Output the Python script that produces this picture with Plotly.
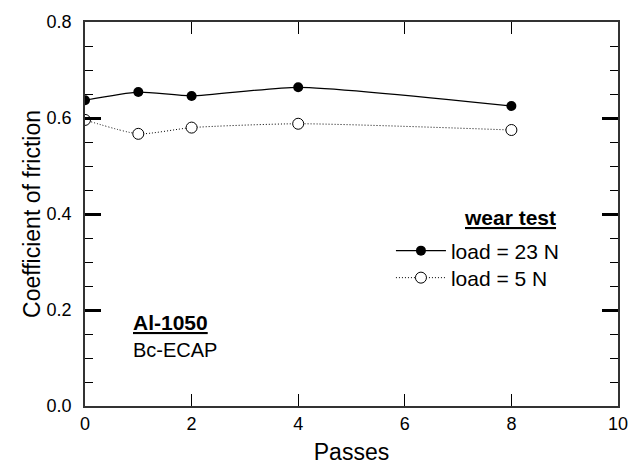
import plotly.graph_objects as go

# Data
passes = [0, 1, 2, 4, 8]
cof_23N = [0.637, 0.654, 0.646, 0.664, 0.625]
cof_5N = [0.596, 0.567, 0.580, 0.588, 0.575]

series_names = ["load = 23 N", "load = 5 N"]
x_ticks = [0, 2, 4, 6, 8, 10]
y_ticks = [0.0, 0.2, 0.4, 0.6, 0.8]

FONT = "Liberation Sans, Arial, sans-serif"

fig = go.Figure()

fig.add_trace(go.Scatter(
    x=passes, y=cof_23N, name=series_names[0], legend="legend",
    mode="lines+markers",
    line=dict(color="black", width=1.2, shape="spline", smoothing=0.6),
    marker=dict(symbol="circle", size=10, color="black"),
))
fig.add_trace(go.Scatter(
    x=passes, y=cof_5N, name=series_names[1], legend="legend2",
    mode="lines+markers",
    line=dict(color="black", width=1, dash="1px,2px", shape="spline", smoothing=0.6),
    marker=dict(symbol="circle", size=11, color="white",
                line=dict(color="black", width=1)),
))

fig.update_xaxes(
    range=[0, 10], tickvals=x_ticks, automargin=False,
    ticks="inside", ticklen=12, tickwidth=1, tickcolor="black",
    showline=True, linecolor="#333", linewidth=1.5, mirror="ticks",
    showgrid=False, zeroline=False,
    tickfont=dict(family=FONT, size=18, color="black"),
    ticklabelstandoff=1,
    title=dict(text="Passes", font=dict(family=FONT, size=23, color="black"), standoff=15),
)
fig.update_yaxes(
    range=[0, 0.8], tickvals=y_ticks, tickformat=".1f", automargin=False,
    ticks="inside", ticklen=16, tickwidth=2.5, tickcolor="black",
    minor=dict(ticks="inside", ticklen=8, tickwidth=1.2, dtick=0.05, tickcolor="black", showgrid=False),
    showline=True, linecolor="#333", linewidth=1.5, mirror="ticks",
    showgrid=False, zeroline=False,
    tickfont=dict(family=FONT, size=18, color="black"),
    ticklabelstandoff=8,
    title=dict(text="Coefficient of friction", font=dict(family=FONT, size=23, color="black"), standoff=0),
)

# text labels inside the plot
fig.add_annotation(
    x=0.86, y=0.146, xref="x", yref="y", xanchor="left", yanchor="bottom",
    text="<b>Al-1050</b>", showarrow=False,
    font=dict(family=FONT, size=21, color="black", lineposition="under"),
)
fig.add_annotation(
    x=0.86, y=0.09, xref="x", yref="y", xanchor="left", yanchor="bottom",
    text="Bc-ECAP", showarrow=False,
    font=dict(family=FONT, size=20, color="black"),
)
fig.add_annotation(
    x=7.98, y=0.364, xref="x", yref="y", xanchor="center", yanchor="bottom",
    text="<b>wear test</b>", showarrow=False,
    font=dict(family=FONT, size=21, color="black", lineposition="under"),
)

legend_style = dict(
    xanchor="left", yanchor="middle",
    bgcolor="rgba(0,0,0,0)", borderwidth=0,
    font=dict(family=FONT, size=21, color="black"),
    itemwidth=50,
)

fig.update_layout(
    width=632, height=465,
    margin=dict(l=85, r=14, t=22, b=59),
    paper_bgcolor="white", plot_bgcolor="white",
    showlegend=True,
    legend=dict(x=0.574, y=(406 - 251) / 384, **legend_style),
    legend2=dict(x=0.574, y=(406 - 278) / 384, **legend_style),
)

# drop the default page margin so the figure sits at the window corner
fig.write_html(
    "out.html",
    config={"displayModeBar": False},
    post_script="document.body.style.margin='0';",
)
